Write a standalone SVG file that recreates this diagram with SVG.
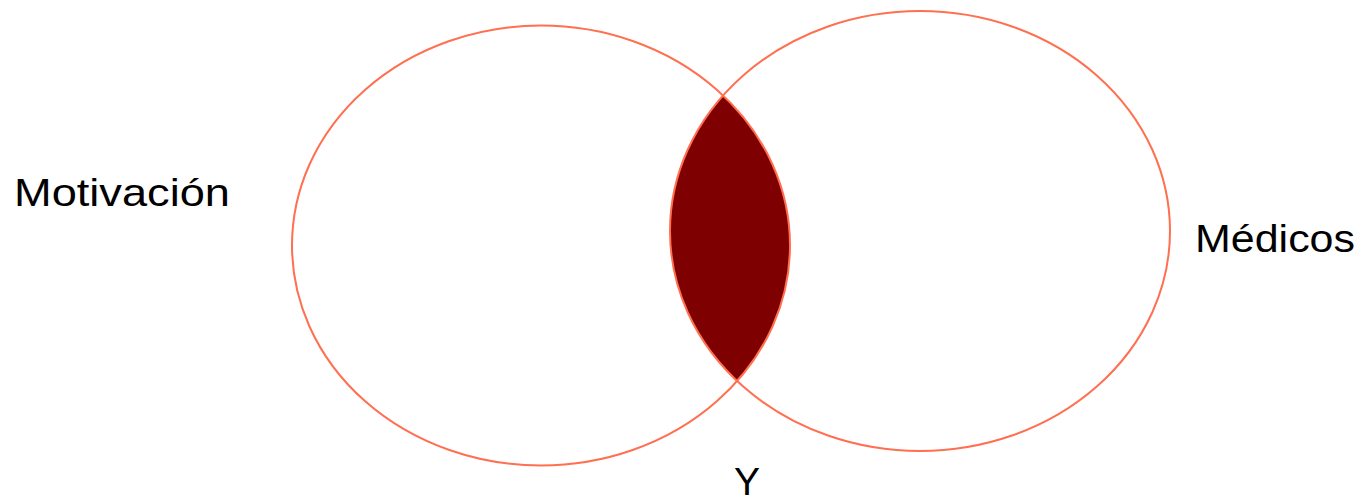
<svg xmlns="http://www.w3.org/2000/svg" width="1363" height="500" viewBox="0 0 1363 500">
<style>
.ring{fill:none;stroke:#FF6F50;stroke-width:2}
.lbl{font-family:"Liberation Sans","Open Sans",Arial,sans-serif;font-size:39px;fill:#000}
</style>
<defs>
<clipPath id="clipL"><ellipse cx="541" cy="245.5" rx="249" ry="220"/></clipPath>
</defs>
<rect width="1363" height="500" fill="#fff"/>
<g id="intersection">
<ellipse cx="920" cy="231" rx="250" ry="220" fill="#7F0000" clip-path="url(#clipL)"/>
</g>
<g id="motivacion">
<ellipse class="ring" cx="541" cy="245.5" rx="249" ry="220"/>
<text class="lbl" x="14" y="206" textLength="216" lengthAdjust="spacingAndGlyphs">Motivación</text>
</g>
<g id="medicos">
<ellipse class="ring" cx="920" cy="231" rx="250" ry="220"/>
<text class="lbl" x="1195" y="252" textLength="160" lengthAdjust="spacingAndGlyphs">Médicos</text>
</g>
<g id="y-label">
<text class="lbl" x="734" y="495">Y</text>
</g>
<g id="connectors"/>
</svg>
